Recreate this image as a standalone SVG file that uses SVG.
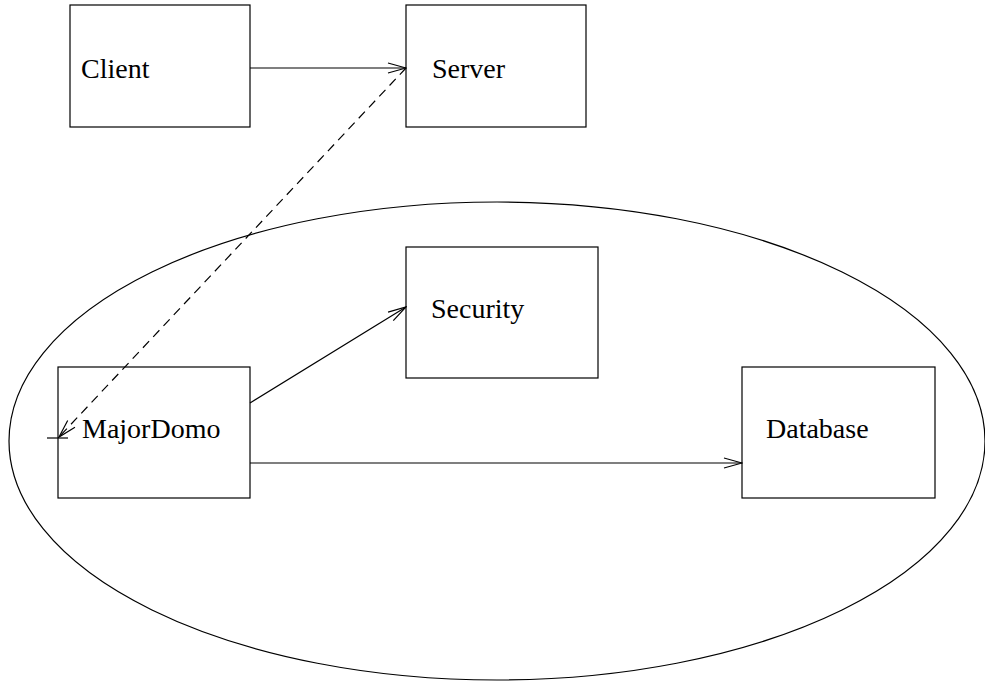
<svg xmlns="http://www.w3.org/2000/svg" width="985" height="681" viewBox="0 0 985 681">
<style>
.box{fill:none;stroke:#000;stroke-width:1.2}
.lbl{font-family:"Liberation Serif","Times New Roman",serif;font-size:28px;fill:#000}
.ln{fill:none;stroke:#000;stroke-width:1.2}
.dash{stroke-dasharray:9,6}
</style>
<defs>
<marker id="open" viewBox="0 0 20 12" refX="19" refY="6" markerWidth="20" markerHeight="12" markerUnits="userSpaceOnUse" orient="auto">
<path d="M1,1 L19,6 L1,11" fill="none" stroke="#000" stroke-width="1.2"/>
</marker>
</defs>
<rect width="985" height="681" fill="#fff"/>
<ellipse id="boundary" cx="497" cy="441" rx="488" ry="239" fill="none" stroke="#000" stroke-width="1.2"/>
<g id="client"><rect class="box" x="70" y="5" width="180" height="122"/><text class="lbl" x="81" y="78">Client</text></g>
<g id="server"><rect class="box" x="406" y="5" width="180" height="122"/><text class="lbl" x="432" y="78">Server</text></g>
<g id="security"><rect class="box" x="406" y="247" width="192" height="131"/><text class="lbl" x="431" y="318">Security</text></g>
<g id="majordomo"><rect class="box" x="58" y="367" width="192" height="131"/><text class="lbl" x="82" y="438">MajorDomo</text></g>
<g id="database"><rect class="box" x="742" y="367" width="193" height="131"/><text class="lbl" x="766" y="438">Database</text></g>
<g id="connectors">
<line class="ln" x1="250" y1="68" x2="406" y2="68" marker-end="url(#open)"/>
<line class="ln" x1="250" y1="403" x2="406" y2="307" marker-end="url(#open)"/>
<line class="ln" x1="250" y1="463" x2="742" y2="463" marker-end="url(#open)"/>
<line class="ln dash" x1="406" y1="68" x2="59" y2="437" marker-end="url(#open)"/>
<line class="ln" x1="47" y1="438" x2="68" y2="438"/>
</g>
</svg>
